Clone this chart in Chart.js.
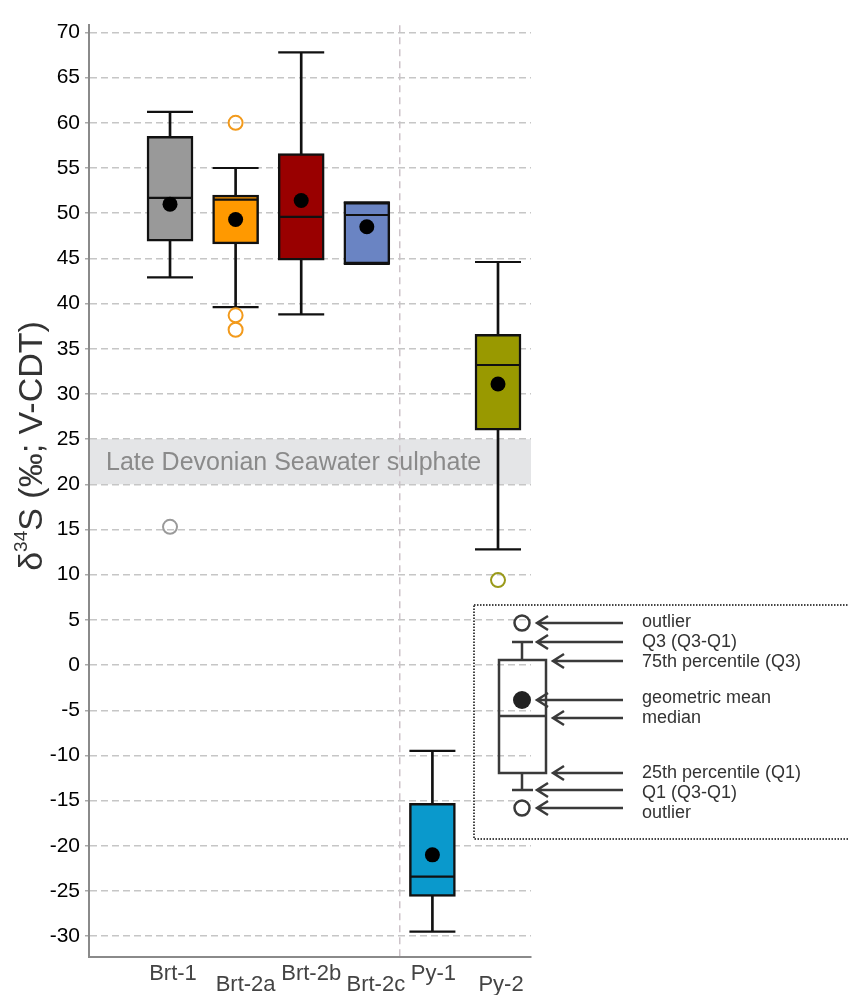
<!DOCTYPE html>
<html>
<head>
<meta charset="utf-8">
<script src="https://cdn.jsdelivr.net/npm/chart.js@4.4.1/dist/chart.umd.min.js"></script>
<style>
  html, body { margin: 0; padding: 0; background: #fff; }
  #wrap { width: 848px; height: 995px; }
</style>
</head>
<body>
<div id="wrap"><canvas id="boxChart" width="848" height="995"></canvas></div>
<script>
const categories = ['Brt-1', 'Brt-2a', 'Brt-2b', 'Brt-2c', 'Py-1', 'Py-2'];
const whiskerLow = [42.9, 39.6, 38.8, 44.4, -29.5, 12.8];
const q1 = [46.9, 46.6, 44.8, 44.4, -25.6, 26.0];
const median = [51.7, 51.5, 49.6, 49.8, -23.4, 33.2];
const q3 = [58.5, 52.0, 56.6, 51.2, -15.3, 36.6];
const whiskerHigh = [61.2, 55.0, 67.8, 51.2, -9.5, 44.6];
const geoMean = [51.0, 49.3, 51.4, 48.5, -21.0, 31.1];
const outliers = [[15.3], [60.0, 38.7, 37.1], [], [], [], [9.4]];
const boxColors = ['#999999', '#ff9900', '#990000', '#6a84c3', '#0a99cc', '#999900'];
const outlierColors = ['#9a9a9a', '#f29a1c', '#9a9a1a', '#9a9a1a', '#9a9a1a', '#9a9a1a'];
const yTicks = [-30, -25, -20, -15, -10, -5, 0, 5, 10, 15, 20, 25, 30, 35, 40, 45, 50, 55, 60, 65, 70];
const seawaterBand = [20, 25];
const bandLabel = 'Late Devonian Seawater sulphate';
const legendRows = ['outlier', 'Q3 (Q3-Q1)', '75th percentile (Q3)', 'geometric mean', 'median',
  '25th percentile (Q1)', 'Q1 (Q3-Q1)', 'outlier'];

const FONT = '"Liberation Sans", Arial, Helvetica, sans-serif';
const xPos = categories.map((c, i) => i + 1);

const outlierPoints = [];
const outlierBorders = [];
outliers.forEach((list, i) => list.forEach(v => {
  outlierPoints.push({ x: xPos[i], y: v });
  outlierBorders.push(outlierColors[i]);
}));

const capPoints = [];
xPos.forEach((x, i) => {
  capPoints.push({ x, y: whiskerLow[i] });
  capPoints.push({ x, y: whiskerHigh[i] });
});

// grey band + white background, under the grid
const bandPlugin = {
  id: 'band',
  beforeDraw(chart) {
    const { ctx, chartArea, scales } = chart;
    ctx.save();
    ctx.fillStyle = '#fff';
    ctx.fillRect(0, 0, chart.width, chart.height);
    const top = scales.y.getPixelForValue(seawaterBand[1]);
    const bot = scales.y.getPixelForValue(seawaterBand[0]);
    ctx.fillStyle = '#e4e5e7';
    ctx.fillRect(chartArea.left, top, chartArea.right - chartArea.left, bot - top);
    ctx.fillStyle = '#8a8a8a';
    ctx.font = '25px ' + FONT;
    ctx.textBaseline = 'middle';
    ctx.textAlign = 'left';
    ctx.fillText(bandLabel, chartArea.left + 17, (top + bot) / 2 + 1);
    ctx.restore();
  }
};

// axis title, category labels, key
const decorPlugin = {
  id: 'decor',
  afterDraw(chart) {
    const { ctx, scales } = chart;
    ctx.save();

    // y title with superscript
    ctx.translate(42, 446);
    ctx.rotate(-Math.PI / 2);
    ctx.fillStyle = '#333';
    ctx.textBaseline = 'alphabetic';
    const big = '34px ' + FONT, small = '19px ' + FONT;
    ctx.font = big;
    const w1 = ctx.measureText('δ').width;
    const w3 = ctx.measureText('S (‰; V-CDT)').width;
    ctx.font = small;
    const w2 = ctx.measureText('34').width;
    let x0 = -(w1 + w2 + w3) / 2;
    ctx.font = big;
    ctx.fillText('δ', x0, 0);
    ctx.font = small;
    ctx.fillText('34', x0 + w1, -15);
    ctx.font = big;
    ctx.fillText('S (‰; V-CDT)', x0 + w1 + w2, 0);
    ctx.restore();

    // category labels, staggered
    ctx.save();
    ctx.fillStyle = '#444';
    ctx.font = '22px ' + FONT;
    ctx.textAlign = 'center';
    ctx.textBaseline = 'alphabetic';
    const nudge = [3, 10, 10, 9, 1, 3];
    categories.forEach((c, i) => {
      const px = scales.x.getPixelForValue(xPos[i]) + nudge[i];
      ctx.fillText(c, px, i % 2 === 0 ? 980 : 991);
    });
    ctx.restore();

    // key box
    ctx.save();
    ctx.strokeStyle = '#444';
    ctx.lineWidth = 2;
    ctx.setLineDash([1.5, 1.5]);
    ctx.strokeRect(474, 605, 400, 234);
    ctx.setLineDash([]);
    ctx.strokeStyle = '#3a3a3a';
    ctx.lineWidth = 2.5;
    const cx = 522;
    ctx.beginPath();
    ctx.arc(cx, 623, 7.5, 0, Math.PI * 2);
    ctx.stroke();
    ctx.beginPath();
    ctx.arc(cx, 808, 7.5, 0, Math.PI * 2);
    ctx.stroke();
    ctx.beginPath();
    ctx.moveTo(512, 642); ctx.lineTo(533, 642);
    ctx.moveTo(cx, 642); ctx.lineTo(cx, 660);
    ctx.moveTo(cx, 773); ctx.lineTo(cx, 790);
    ctx.moveTo(512, 790); ctx.lineTo(533, 790);
    ctx.moveTo(499, 716); ctx.lineTo(546, 716);
    ctx.stroke();
    ctx.strokeRect(499, 660, 47, 113);
    ctx.fillStyle = '#222';
    ctx.beginPath();
    ctx.arc(cx, 700, 9, 0, Math.PI * 2);
    ctx.fill();

    const arrowRows = [[623, 537], [642, 537], [661, 553], [700, 537], [718, 553], [773, 553], [790, 537], [808, 537]];
    arrowRows.forEach(([y, tip]) => {
      ctx.beginPath();
      ctx.moveTo(623, y); ctx.lineTo(tip + 1, y);
      ctx.moveTo(tip + 11, y - 7); ctx.lineTo(tip, y); ctx.lineTo(tip + 11, y + 7);
      ctx.stroke();
    });

    ctx.fillStyle = '#333';
    ctx.font = '18px ' + FONT;
    ctx.textAlign = 'left';
    ctx.textBaseline = 'middle';
    const textY = [622, 642, 662, 698, 718, 773, 793, 813];
    legendRows.forEach((t, i) => ctx.fillText(t, 642, textY[i]));
    ctx.restore();
  }
};

new Chart(document.getElementById('boxChart'), {
  type: 'bar',
  data: {
    datasets: [
      {
        type: 'scatter', label: 'outliers', data: outlierPoints, order: 0,
        pointStyle: 'circle', pointRadius: 7, pointHoverRadius: 7, pointBorderWidth: 2,
        pointBorderColor: outlierBorders, pointBackgroundColor: 'rgba(0,0,0,0)'
      },
      {
        type: 'scatter', label: 'geometric mean', order: 1,
        data: xPos.map((x, i) => ({ x, y: geoMean[i] })),
        pointStyle: 'circle', pointRadius: 7.5, pointHoverRadius: 7.5, pointBorderWidth: 0,
        pointBackgroundColor: '#000'
      },
      {
        type: 'scatter', label: 'median', order: 2,
        data: xPos.map((x, i) => ({ x, y: median[i] })),
        pointStyle: 'line', pointRadius: 22, pointHoverRadius: 22, pointBorderWidth: 2.2,
        pointBorderColor: '#111'
      },
      {
        type: 'bar', label: 'box', order: 3, grouped: false,
        data: xPos.map((x, i) => ({ x, y: [q1[i], q3[i]] })),
        backgroundColor: boxColors, borderColor: '#111', borderWidth: 2.5,
        borderSkipped: false, barThickness: 46
      },
      {
        type: 'scatter', label: 'caps', order: 4, data: capPoints,
        pointStyle: 'line', pointRadius: 23, pointHoverRadius: 23, pointBorderWidth: 2.2,
        pointBorderColor: '#111'
      },
      {
        type: 'bar', label: 'whiskers', order: 5, grouped: false,
        data: xPos.map((x, i) => ({ x, y: [whiskerLow[i], whiskerHigh[i]] })),
        backgroundColor: '#111', borderWidth: 0, barThickness: 2
      }
    ]
  },
  options: {
    responsive: false,
    animation: false,
    events: [],
    layout: { padding: { left: 0, top: 17, right: 317, bottom: 38 } },
    plugins: {
      legend: { display: false },
      tooltip: { enabled: false }
    },
    scales: {
      x: {
        type: 'linear', min: -0.235, max: 6.503, offset: false,
        afterBuildTicks: s => { s.ticks = [{ value: 4.5 }]; },
        ticks: { display: false },
        grid: { color: '#cdc3c9', lineWidth: 1.5, drawTicks: false, offset: false },
        border: { color: '#8a8a8a', width: 2, dash: [7, 5] }
      },
      y: {
        min: -32.3, max: 70.8,
        afterBuildTicks: s => { s.ticks = yTicks.map(v => ({ value: v })); },
        afterFit: s => { s.width = 89; },
        ticks: { color: '#000', padding: 5, font: { family: FONT, size: 21 } },
        grid: { color: '#c6c6c6', lineWidth: 1.5, tickLength: 4, tickColor: '#aaa', tickWidth: 1.5 },
        border: { color: '#8a8a8a', width: 2, dash: [7, 4] }
      }
    }
  },
  plugins: [bandPlugin, decorPlugin]
});
</script>
</body>
</html>
